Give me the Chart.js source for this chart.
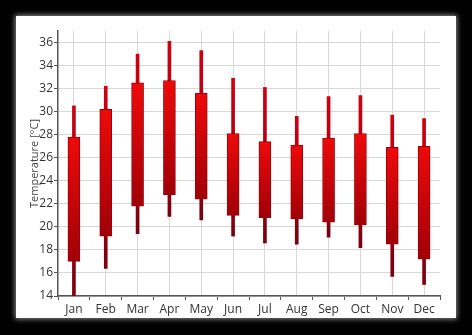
<!DOCTYPE html>
<html>
<head>
<meta charset="utf-8">
<script src="https://cdn.jsdelivr.net/npm/chart.js@4"></script>
<style>
  html, body { margin: 0; padding: 0; background: #000; }
  #panel {
    position: absolute; left: 16px; top: 16px; width: 440px; height: 302px;
    background: #fff; box-shadow: 0 0 5px 1px rgba(200,200,200,0.7);
  }
  #myChart { position: absolute; left: 0; top: 0; }
</style>
</head>
<body>
<div id="panel"><canvas id="myChart" width="440" height="302"></canvas></div>
<script>
const months = ['Jan', 'Feb', 'Mar', 'Apr', 'May', 'Jun', 'Jul', 'Aug', 'Sep', 'Oct', 'Nov', 'Dec'];
const lows   = [14.0, 16.4, 19.4, 20.9, 20.6, 19.2, 18.6, 18.5, 19.1, 18.2, 15.7, 15.0];
const opens  = [17.0, 19.2, 21.8, 22.8, 22.4, 21.0, 20.8, 20.7, 20.4, 20.2, 18.5, 17.2];
const closes = [27.8, 30.2, 32.5, 32.7, 31.6, 28.1, 27.4, 27.1, 27.7, 28.1, 26.9, 27.0];
const highs  = [30.5, 32.2, 35.0, 36.1, 35.3, 32.9, 32.1, 29.6, 31.3, 31.4, 29.7, 29.4];

const ctx = document.getElementById('myChart');

// vertical gradient for one floating bar, from its top to its bottom
function barGradient(context, top, bottom) {
    const chart = context.chart;
    if (!chart.chartArea || !context.raw) return top;
    const y = chart.scales.y;
    const y0 = y.getPixelForValue(context.raw[1]);
    const y1 = y.getPixelForValue(context.raw[0]);
    const g = chart.ctx.createLinearGradient(0, y0, 0, y1 + 0.01);
    g.addColorStop(0, top);
    g.addColorStop(1, bottom);
    return g;
}

const boxData = months.map((m, i) => [opens[i], closes[i]]);
const wickData = months.map((m, i) => [lows[i], highs[i]]);

new Chart(ctx, {
    type: 'bar',
    data: {
        labels: months,
        datasets: [{
            label: 'Box',
            data: boxData,
            grouped: false,
            order: 1,
            barThickness: 12,
            backgroundColor: c => barGradient(c, '#ee0a0a', '#a00008'),
            borderColor: '#9a0008',
            borderWidth: 1,
            borderSkipped: false
        }, {
            label: 'Range',
            data: wickData,
            grouped: false,
            order: 2,
            barThickness: 3,
            backgroundColor: c => barGradient(c, '#d00010', '#7a0010'),
            borderWidth: 0
        }]
    },
    options: {
        responsive: false,
        animation: false,
        layout: { padding: { left: 0, right: 16, top: 15, bottom: 0 } },
        plugins: {
            legend: { display: false },
            tooltip: { enabled: false }
        },
        scales: {
            // tick marks between months (grid lines themselves come from x)
            x2: {
                type: 'category',
                labels: months,
                position: 'bottom',
                weight: 0,
                offset: true,
                afterFit: s => { s.height = 0; },
                grid: { offset: true, drawOnChartArea: false, tickColor: '#555', tickLength: 4 },
                border: { display: false },
                ticks: { display: false }
            },
            x: {
                weight: 1,
                afterFit: s => { s.height = 22; },
                grid: { offset: false, color: '#d8d8d8', drawTicks: false },
                border: { color: '#555', width: 1.5 },
                ticks: { padding: 6, color: '#333', font: { family: 'Open Sans', size: 12 } }
            },
            y: {
                min: 14,
                max: 37,
                afterFit: s => { s.width = 42; },
                grid: {
                    color: c => (c.tick && c.tick.value % 2 === 0) ? '#d8d8d8' : 'rgba(0,0,0,0)',
                    tickColor: '#555',
                    tickLength: 4
                },
                border: { color: '#555', width: 1.5 },
                ticks: {
                    stepSize: 1,
                    padding: 1,
                    color: '#333',
                    font: { family: 'Open Sans', size: 12 },
                    callback: v => (v % 2 === 0 ? v : '')
                },
                title: {
                    display: true,
                    text: 'Temperature [°C]',
                    color: '#444',
                    padding: { top: 12, bottom: 0 },
                    font: { family: 'Open Sans', size: 11 }
                }
            }
        }
    }
});
</script>
</body>
</html>
